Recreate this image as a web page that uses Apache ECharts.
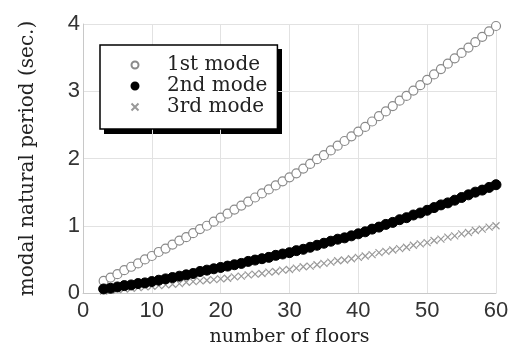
<!DOCTYPE html>
<html>
<head>
<meta charset="utf-8">
<script src="https://cdn.jsdelivr.net/npm/echarts@6/dist/echarts.min.js"></script>
<style>html,body{margin:0;padding:0;background:#fff}#c{width:513px;height:352px}</style>
</head>
<body>
<div id="c"></div>
<script>
var floors = [3,4,5,6,7,8,9,10,11,12,13,14,15,16,17,18,19,20,21,22,23,24,25,26,27,28,29,30,31,32,33,34,35,36,37,38,39,40,41,42,43,44,45,46,47,48,49,50,51,52,53,54,55,56,57,58,59,60];
var mode1 = [0.18,0.23,0.28,0.34,0.39,0.44,0.50,0.55,0.61,0.66,0.72,0.78,0.83,0.89,0.95,1.00,1.06,1.12,1.18,1.24,1.30,1.36,1.42,1.48,1.54,1.60,1.66,1.72,1.78,1.85,1.92,1.99,2.05,2.12,2.19,2.26,2.33,2.40,2.47,2.55,2.63,2.70,2.78,2.86,2.93,3.01,3.09,3.17,3.25,3.33,3.41,3.49,3.57,3.65,3.73,3.81,3.89,3.97];
var mode2 = [0.06,0.07,0.09,0.11,0.12,0.14,0.15,0.17,0.19,0.21,0.23,0.25,0.27,0.29,0.32,0.34,0.36,0.38,0.40,0.42,0.44,0.47,0.49,0.51,0.53,0.56,0.58,0.60,0.63,0.65,0.68,0.71,0.74,0.77,0.80,0.82,0.85,0.88,0.91,0.95,0.98,1.02,1.05,1.09,1.12,1.16,1.19,1.23,1.27,1.31,1.34,1.38,1.42,1.46,1.50,1.53,1.57,1.61];
var mode3 = [0.03,0.04,0.05,0.06,0.07,0.08,0.09,0.10,0.11,0.12,0.13,0.14,0.16,0.17,0.18,0.19,0.20,0.21,0.22,0.24,0.25,0.27,0.28,0.29,0.31,0.32,0.34,0.35,0.37,0.39,0.40,0.42,0.44,0.46,0.48,0.49,0.51,0.53,0.55,0.57,0.60,0.62,0.64,0.66,0.68,0.71,0.73,0.75,0.78,0.80,0.83,0.85,0.88,0.90,0.93,0.95,0.98,1.00];
var seriesNames = ['1st mode','2nd mode','3rd mode'];

function pairs(xs, ys){ return xs.map(function(x,i){ return [x, ys[i]]; }); }

var chart = echarts.init(document.getElementById('c'), null, {renderer:'canvas'});
chart.setOption({
  animation: false,
  backgroundColor: '#fff',
  grid: {left: 83, right: 17, top: 24, bottom: 55},
  graphic: [{
    type: 'rect', left: 104, top: 49, z: 0, zlevel: 0,
    shape: {width: 178, height: 85},
    style: {fill: '#000'}
  }],
  legend: {
    orient: 'vertical', left: 100, top: 45, z: 10,
    data: seriesNames,
    itemWidth: 12, itemHeight: 7, itemGap: 1,
    padding: [10, 10, 12, 29],
    backgroundColor: '#fff',
    borderColor: '#000', borderWidth: 1.5,
    textStyle: {fontFamily: 'DejaVu Serif', fontSize: 20, color: '#222', lineHeight: 20, padding: [0,0,0,21]}
  },
  xAxis: {
    type: 'value', min: 0, max: 60, interval: 10,
    name: 'number of floors', nameLocation: 'middle', nameGap: 35,
    nameTextStyle: {fontFamily: 'DejaVu Serif', fontSize: 19, color: '#222'},
    axisLine: {show: true, lineStyle: {color: '#c8c8c8'}},
    axisTick: {show: false},
    axisLabel: {fontFamily: 'Liberation Sans', fontSize: 22, color: '#333', margin: 7},
    splitLine: {show: true, lineStyle: {color: '#e2e2e2'}}
  },
  yAxis: {
    type: 'value', min: 0, max: 4, interval: 1,
    name: 'modal natural period (sec.)', nameLocation: 'middle', nameGap: 45,
    nameTextStyle: {fontFamily: 'DejaVu Serif', fontSize: 20, color: '#222'},
    axisLine: {show: true, lineStyle: {color: '#c8c8c8'}},
    axisTick: {show: false},
    axisLabel: {fontFamily: 'Liberation Sans', fontSize: 22, color: '#333', margin: 3},
    splitLine: {show: true, lineStyle: {color: '#e2e2e2'}}
  },
  series: [
    {name: seriesNames[0], type: 'scatter', data: pairs(floors, mode1), symbol: 'circle', symbolSize: 9,
     itemStyle: {color: '#fff', borderColor: '#8a8a8a', borderWidth: 1.2, opacity: 1}},
    {name: seriesNames[2], type: 'scatter', data: pairs(floors, mode3), symbol: 'path://M0,0L10,10M10,0L0,10', symbolSize: 7,
     itemStyle: {color: 'none', borderColor: '#999', borderWidth: 1.2, opacity: 1}},
    {name: seriesNames[1], type: 'scatter', data: pairs(floors, mode2), symbol: 'circle', symbolSize: 10,
     itemStyle: {color: '#000', borderColor: '#000', borderWidth: 1, opacity: 1}}
  ]
});
</script>
</body>
</html>
